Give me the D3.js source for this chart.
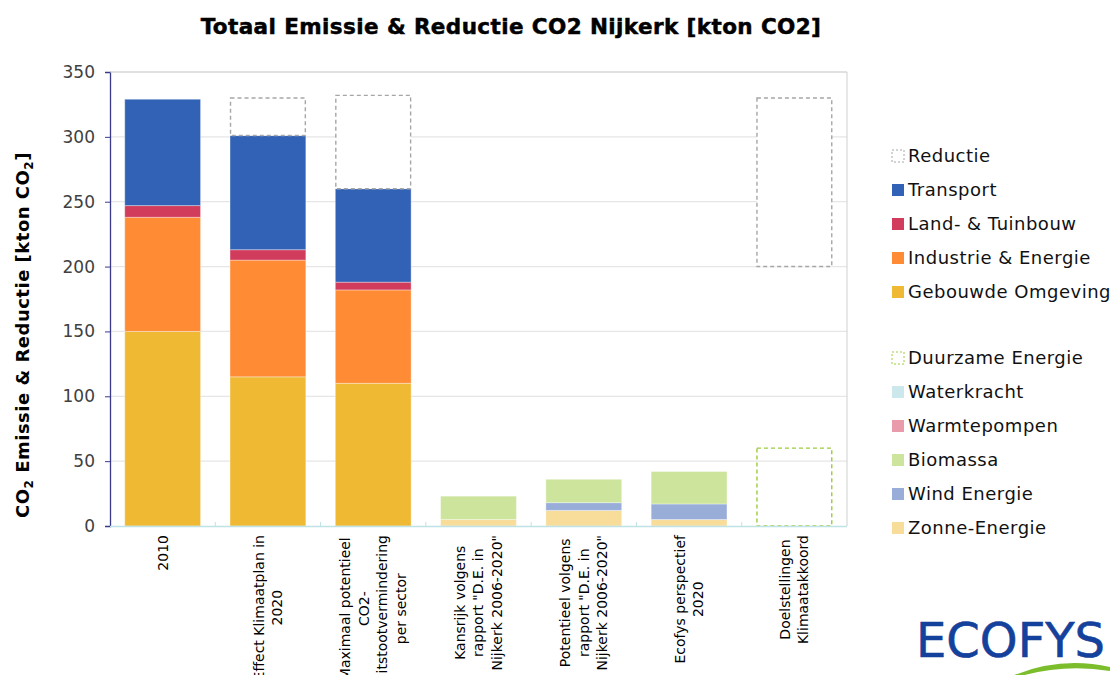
<!DOCTYPE html>
<html><head><meta charset="utf-8">
<script src="https://cdn.jsdelivr.net/npm/d3@7"></script>
<style>html,body{margin:0;padding:0;background:#fff;}svg{display:block;font-family:"DejaVu Sans",Verdana,sans-serif;}</style>
</head><body>
<svg id="chart" width="1115" height="675"></svg>
<script>
// ---- data ----
const categories = [
  ["2010"],
  ["Effect Klimaatplan in", "2020"],
  ["Maximaal potentieel", "CO2-", "uitstootvermindering", "per sector"],
  ["Kansrijk volgens", "rapport \"D.E. in", "Nijkerk 2006-2020\""],
  ["Potentieel volgens", "rapport \"D.E. in", "Nijkerk 2006-2020\""],
  ["Ecofys perspectief", "2020"],
  ["Doelstellingen", "Klimaatakkoord"]
];
const yTicks = [0, 50, 100, 150, 200, 250, 300, 350];
// emission stack (bottom to top)
const gebouwdeOmgeving = [150, 115, 110, 0, 0, 0, 0];
const industrieEnergie = [88, 90, 72, 0, 0, 0, 0];
const landTuinbouw     = [9, 8, 6, 0, 0, 0, 0];
const transport        = [82, 88, 72, 0, 0, 0, 0];
const onzichtbaar      = [0, 0, 0, 0, 0, 0, 200]; // invisible base of target bar
const reductie         = [0, 29, 72, 0, 0, 0, 130];
// renewable stack (bottom to top)
const zonneEnergie   = [0, 0, 0, 5, 12, 5, 0];
const windEnergie    = [0, 0, 0, 0, 6, 12, 0];
const biomassa       = [0, 0, 0, 18, 18, 25, 0];
const warmtepompen   = [0, 0, 0, 0, 0, 0, 0];
const waterkracht    = [0, 0, 0, 0, 0, 0, 0];
const duurzameEnergie= [0, 0, 0, 0, 0, 0, 60];

const emissionSeries = [
  {name: "Gebouwde Omgeving", values: gebouwdeOmgeving, color: "#efb934"},
  {name: "Industrie & Energie", values: industrieEnergie, color: "#ff8c34"},
  {name: "Land- & Tuinbouw", values: landTuinbouw, color: "#d23c5c"},
  {name: "Transport", values: transport, color: "#3262b6"},
  {name: "_base", values: onzichtbaar, color: "none", hidden: true},
  {name: "Reductie", values: reductie, color: "#fff", dash: "#a6a6a6"}
];
const renewSeries = [
  {name: "Zonne-Energie", values: zonneEnergie, color: "#f8dc9a"},
  {name: "Wind Energie", values: windEnergie, color: "#98aed9"},
  {name: "Biomassa", values: biomassa, color: "#cde49c"},
  {name: "Warmtepompen", values: warmtepompen, color: "#e99bac"},
  {name: "Waterkracht", values: waterkracht, color: "#cde8ec"},
  {name: "Duurzame Energie", values: duurzameEnergie, color: "none", dash: "#9ccc3c"}
];

// ---- layout ----
const svg = d3.select("#chart");
const L = 110, R = 847, T = 72, B = 526;
const x = d3.scaleBand().domain(d3.range(categories.length)).range([L, R]).paddingInner(0.28).paddingOuter(0.14);
const y = d3.scaleLinear().domain([0, 350]).range([B, T]);

// title
svg.append("text").attr("x", 511).attr("y", 34).attr("text-anchor", "middle")
  .attr("font-weight", "bold").attr("font-size", 21.5).attr("letter-spacing", 0.4)
  .attr("fill", "#000").attr("stroke", "#000").attr("stroke-width", 0.5)
  .text("Totaal Emissie & Reductie CO2 Nijkerk [kton CO2]");

// gridlines
svg.append("g").selectAll("line").data(yTicks.filter(d => d > 0)).join("line")
  .attr("x1", L).attr("x2", R).attr("y1", d => y(d)).attr("y2", d => y(d))
  .attr("stroke", "#e6e6e6").attr("stroke-width", 1.2);
// right border
svg.append("line").attr("x1", R).attr("x2", R).attr("y1", T).attr("y2", B).attr("stroke", "#d0d0d0");

// stacks
function drawStack(series) {
  const stack = d3.stack().keys(d3.range(series.length)).value((d, k) => series[k].values[d]);
  const layers = stack(d3.range(categories.length));
  layers.forEach((layer, k) => {
    const s = series[k];
    if (s.hidden) return;
    svg.append("g").selectAll("rect").data(layer.map((d, i) => ({d, i}))).join("rect")
      .filter(o => o.d[1] - o.d[0] > 0)
      .attr("x", o => x(o.i) + (s.dash ? 0.5 : 0))
      .attr("width", x.bandwidth() - (s.dash ? 1 : 0))
      .attr("y", o => y(o.d[1]))
      .attr("height", o => y(o.d[0]) - y(o.d[1]))
      .attr("fill", s.color)
      .attr("stroke", s.dash ? s.dash : "rgba(255,255,255,0.35)")
      .attr("stroke-width", s.dash ? 1.4 : 1)
      .attr("stroke-dasharray", s.dash ? "4,3" : null);
  });
}
drawStack(emissionSeries);
drawStack(renewSeries);

// y axis
const yAxis = d3.axisLeft(y).tickValues(yTicks).tickSize(5).tickPadding(10);
const gy = svg.append("g").attr("transform", `translate(${L},0)`).call(yAxis);
gy.select(".domain").attr("stroke", "#3a3a8c").attr("stroke-width", 1.3);
gy.selectAll(".tick line").attr("stroke", "#3a3a8c");
gy.selectAll(".tick text").attr("font-size", 17).attr("fill", "#404040")
  .attr("font-family", "DejaVu Sans, Verdana, sans-serif");
// top border
svg.append("line").attr("x1", L).attr("x2", R).attr("y1", T).attr("y2", T).attr("stroke", "#d0d0d0");

// x axis (light cyan baseline with ticks between categories)
svg.append("line").attr("x1", L).attr("x2", R).attr("y1", B + 0.5).attr("y2", B + 0.5).attr("stroke", "#bfe2e6").attr("stroke-width", 1.3);
svg.append("g").selectAll("line").data(d3.range(1, categories.length)).join("line")
  .attr("x1", i => x(i) - x.step() * x.paddingInner() / 2).attr("x2", i => x(i) - x.step() * x.paddingInner() / 2)
  .attr("y1", B - 4).attr("y2", B).attr("stroke", "#bfe2e6");

// x labels
categories.forEach((lines, i) => {
  const cx = x(i) + x.bandwidth() / 2;
  const g = svg.append("g").attr("transform", `translate(${cx},535) rotate(-90)`);
  const texts = g.selectAll("text").data(lines).join("text")
    .attr("font-size", 14).attr("fill", "#000")
    .attr("text-anchor", "middle")
    .attr("y", (d, j) => (j - (lines.length - 1) / 2) * 18.5)
    .attr("dy", "0.35em")
    .text(d => d);
  let maxLen = 0;
  texts.each(function() { maxLen = Math.max(maxLen, this.getComputedTextLength()); });
  texts.attr("x", -maxLen / 2);
});

// y axis title
const yt = svg.append("text").attr("transform", "translate(29,335) rotate(-90)")
  .attr("text-anchor", "middle").attr("font-weight", "bold").attr("font-size", 18)
  .attr("letter-spacing", 0.5).attr("fill", "#000");
yt.append("tspan").text("CO");
yt.append("tspan").attr("font-size", 12).attr("dy", 4).text("2");
yt.append("tspan").attr("dy", -4).text(" Emissie & Reductie [kton CO");
yt.append("tspan").attr("font-size", 12).attr("dy", 4).text("2");
yt.append("tspan").attr("dy", -4).text("]");

// legend
const legendGroups = [
  {items: emissionSeries.filter(s => !s.hidden).slice().reverse(), y0: 156},
  {items: renewSeries.slice().reverse(), y0: 358}
];
legendGroups.forEach(grp => {
  grp.items.forEach((s, j) => {
    const cy = grp.y0 + j * 34;
    const r = svg.append("rect").attr("x", 892).attr("y", cy - 6).attr("width", 12).attr("height", 12);
    if (s.dash) r.attr("fill", "#fff").attr("stroke", s.dash).attr("stroke-dasharray", "2,2").attr("stroke-width", 1);
    else r.attr("fill", s.color);
    svg.append("text").attr("x", 908).attr("y", cy).attr("dy", "0.36em")
      .attr("font-size", 18).attr("letter-spacing", 0.5).attr("fill", "#111").text(s.name);
  });
});

// logo
svg.append("text").attr("x", 916).attr("y", 657).attr("font-size", 48).attr("fill", "#14419b")
  .attr("stroke", "#14419b").attr("stroke-width", 0.6).text("ECOFYS");
svg.append("path").attr("d", "M1012,676 Q1060,656 1110,667 L1110,671 Q1062,663 1014,678 Z").attr("fill", "#7cbd2c");
</script>
</body></html>
